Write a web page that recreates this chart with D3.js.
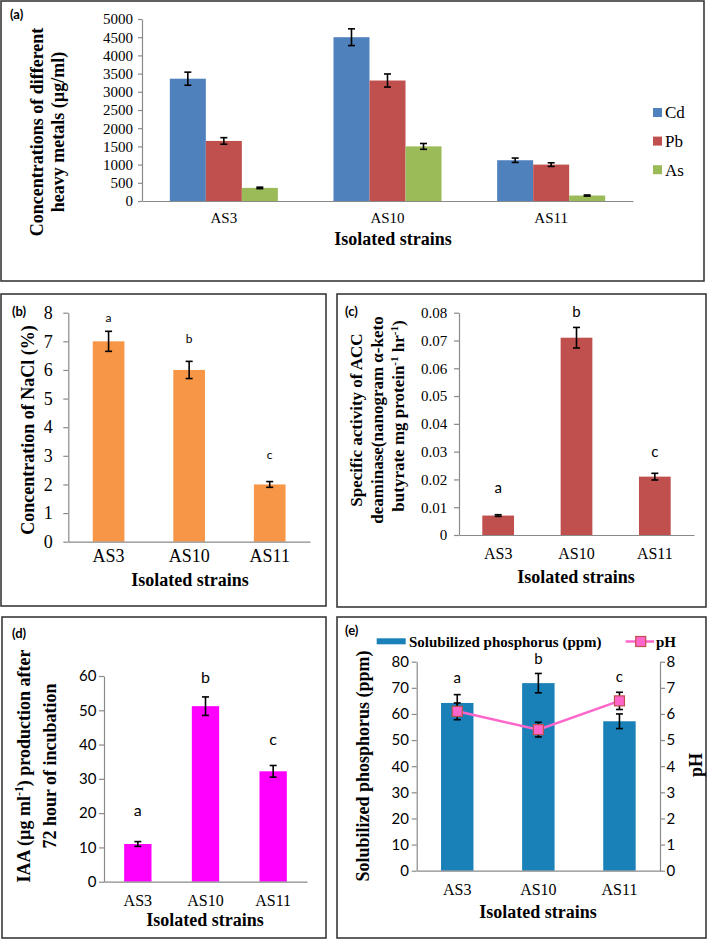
<!DOCTYPE html>
<html><head><meta charset="utf-8">
<script src="https://cdn.jsdelivr.net/npm/d3@7"></script>
<style>body{margin:0;background:#fff}svg{display:block}</style>
</head><body>
<script>
// ---------- data ----------
const strains = ["AS3", "AS10", "AS11"];
const metals = ["Cd", "Pb", "As"];
const cdValues = [3360, 4500, 1120];
const cdErrors = [180, 230, 60];
const pbValues = [1650, 3310, 1000];
const pbErrors = [90, 180, 50];
const asValues = [360, 1500, 150];
const asErrors = [20, 80, 15];
const metalTicks = [0, 500, 1000, 1500, 2000, 2500, 3000, 3500, 4000, 4500, 5000];

const naclValues = [7, 6, 2];
const naclErrors = [0.35, 0.3, 0.1];
const naclTicks = [0, 1, 2, 3, 4, 5, 6, 7, 8];

const accValues = [0.007, 0.071, 0.021];
const accErrors = [0.0003, 0.0037, 0.0012];
const accTicks = [0, 0.01, 0.02, 0.03, 0.04, 0.05, 0.06, 0.07, 0.08];

const iaaValues = [11, 51.2, 32.2];
const iaaErrors = [0.7, 2.7, 1.7];
const iaaTicks = [0, 10, 20, 30, 40, 50, 60];

const phosValues = [64.2, 71.8, 57.2];
const phosErrors = [3.2, 3.7, 2.8];
const phValues = [6.1, 5.4, 6.5];
const phErrors = [0.32, 0.28, 0.33];
const phosTicks = [0, 10, 20, 30, 40, 50, 60, 70, 80];
const phTicks = [0, 1, 2, 3, 4, 5, 6, 7, 8];

const sigLetters = ["a", "b", "c"];

// ---------- helpers ----------
const SERIF = "'Liberation Serif','Times New Roman',Times,serif";
const SANS = "Lato,'Liberation Sans',Arial,sans-serif";
const AXIS = "#8a8a8a";
const svg = d3.select("body").append("svg").attr("width", 708).attr("height", 939);

function border(x0, y0, x1, y1) {
  svg.append("rect").attr("x", x0).attr("y", y0).attr("width", x1 - x0).attr("height", y1 - y0)
    .attr("fill", "none").attr("stroke", "#3a3a3a").attr("stroke-width", 1.6);
}
function text(x, y, str, size, family, weight, anchor) {
  return svg.append("text").attr("x", x).attr("y", y).text(str)
    .style("font-size", size + "px").style("font-family", family).style("font-weight", weight || "normal")
    .attr("text-anchor", anchor || "start").attr("fill", "#000");
}
// rotated (-90) multi-part text; parts: [str, isSup]
function rotText(x, y, parts, size) {
  const t = svg.append("text").attr("transform", `translate(${x},${y}) rotate(-90)`)
    .attr("text-anchor", "middle").style("font-family", SERIF).style("font-weight", "bold")
    .style("font-size", size + "px").attr("fill", "#000");
  let sup = false;
  parts.forEach(p => {
    const s = t.append("tspan").text(p[0]);
    if (p[1] && !sup) { s.attr("dy", -size * 0.38).style("font-size", (size * 0.65) + "px"); sup = true; }
    else if (!p[1] && sup) { s.attr("dy", size * 0.38); sup = false; }
  });
}
function styleAxis(g, family, size) {
  g.attr("font-family", null).attr("font-size", null);
  g.select(".domain").attr("stroke", AXIS).attr("stroke-width", 1.2);
  g.selectAll(".tick line").attr("stroke", AXIS).attr("stroke-width", 1.2);
  g.selectAll(".tick text").attr("fill", "#000").style("font-family", family).style("font-size", size + "px");
}
function leftAxis(y, x, ticks, fmt, ts, pad, family, size) {
  const g = svg.append("g").attr("transform", `translate(${x},0)`)
    .call(d3.axisLeft(y).tickValues(ticks).tickFormat(fmt).tickSize(ts).tickPadding(pad).tickSizeOuter(0));
  styleAxis(g, family, size);
}
function rightAxis(y, x, ticks, fmt, ts, pad, family, size) {
  const g = svg.append("g").attr("transform", `translate(${x},0)`)
    .call(d3.axisRight(y).tickValues(ticks).tickFormat(fmt).tickSize(ts).tickPadding(pad).tickSizeOuter(0));
  styleAxis(g, family, size);
}
function bottomAxis(x, yPos, pad, size) {
  const g = svg.append("g").attr("transform", `translate(0,${yPos})`)
    .call(d3.axisBottom(x).tickSize(0).tickPadding(pad).tickSizeOuter(0));
  styleAxis(g, SERIF, size);
}
function errBars(xs, vals, errs, y, cap) {
  const g = svg.append("g").attr("stroke", "#000").attr("stroke-width", 1.6);
  vals.forEach((v, i) => {
    const cx = xs[i], t = y(v + errs[i]), b = y(v - errs[i]);
    g.append("line").attr("x1", cx).attr("x2", cx).attr("y1", t).attr("y2", b);
    g.append("line").attr("x1", cx - cap).attr("x2", cx + cap).attr("y1", t).attr("y2", t);
    g.append("line").attr("x1", cx - cap).attr("x2", cx + cap).attr("y1", b).attr("y2", b);
  });
}
function simpleBars(x, y, vals, color) {
  svg.append("g").selectAll("rect").data(vals).join("rect")
    .attr("x", (d, i) => x(strains[i])).attr("width", x.bandwidth())
    .attr("y", d => y(d)).attr("height", d => y(0) - y(d)).attr("fill", color);
}
function band(r0, r1, p) {
  return d3.scaleBand().domain(strains).range([r0, r1]).paddingInner(p).paddingOuter(p / 2);
}
const centers = x => strains.map(s => x(s) + x.bandwidth() / 2);

// ---------- panel (a) ----------
border(1, 1, 704, 281);
text(10, 19, "(a)", 13, SANS, "bold");
{
  const y = d3.scaleLinear().domain([0, 5000]).range([201, 19]);
  const x0 = d3.scaleBand().domain(strains).range([142, 633]).paddingInner(0.34).paddingOuter(0.17);
  const x1 = d3.scaleBand().domain(metals).range([0, x0.bandwidth()]);
  const colors = { Cd: "#4F81BD", Pb: "#C0504D", As: "#9BBB59" };
  const series = { Cd: [cdValues, cdErrors], Pb: [pbValues, pbErrors], As: [asValues, asErrors] };
  metals.forEach(m => {
    svg.append("g").selectAll("rect").data(series[m][0]).join("rect")
      .attr("x", (d, i) => x0(strains[i]) + x1(m)).attr("width", x1.bandwidth())
      .attr("y", d => y(d)).attr("height", d => y(0) - y(d)).attr("fill", colors[m]);
  });
  leftAxis(y, 142, metalTicks, d3.format("d"), 4, 5, SERIF, 15);
  bottomAxis(x0, 201, 11.8, 15);
  metals.forEach(m => {
    errBars(strains.map(s => x0(s) + x1(m) + x1.bandwidth() / 2), series[m][0], series[m][1], y, 3.5);
  });
  text(393, 245, "Isolated strains", 18, SERIF, "bold", "middle");
  rotText(42.5, 132, [["Concentrations of different"]], 18);
  rotText(64, 132, [["heavy metals (µg/ml)"]], 18);
  metals.forEach((m, i) => {
    const cy = 112.5 + i * 28.6;
    svg.append("rect").attr("x", 653).attr("y", cy - 4.5).attr("width", 9).attr("height", 9).attr("fill", colors[m]);
    text(665, cy + 5.8, m, 17, SERIF);
  });
}

// ---------- panel (b) ----------
border(1, 294, 326, 606);
text(12, 316, "(b)", 13, SANS, "bold");
{
  const y = d3.scaleLinear().domain([0, 8]).range([541.7, 312.7]);
  const x = band(68.3, 310, 0.607);
  simpleBars(x, y, naclValues, "#F79646");
  leftAxis(y, 68.3, naclTicks, d3.format("d"), 5, 10.6, SERIF, 18);
  bottomAxis(x, 541.7, 8, 18);
  errBars(centers(x), naclValues, naclErrors, y, 3.5);
  const off = [13, 22, 27];
  centers(x).forEach((cx, i) => text(cx, y(naclValues[i] + naclErrors[i]) - off[i] + 4, sigLetters[i], 12, SANS, "normal", "middle"));
  text(190, 586, "Isolated strains", 18, SERIF, "bold", "middle");
  rotText(34, 430, [["Concentration of NaCl (%)"]], 18);
}

// ---------- panel (c) ----------
border(337, 294, 706, 607);
text(345, 316, "(c)", 13, SANS, "bold");
{
  const y = d3.scaleLinear().domain([0, 0.08]).range([535, 312.7]);
  const x = band(459, 694, 0.595);
  simpleBars(x, y, accValues, "#C0504D");
  leftAxis(y, 459, accTicks, d => d === 0 ? "0" : d3.format(".2f")(d), 5, 6.7, SERIF, 15);
  bottomAxis(x, 535, 12.6, 16);
  errBars(centers(x), accValues, accErrors, y, 3.5);
  const off = [26.7, 15.6, 21.6];
  centers(x).forEach((cx, i) => text(cx, y(accValues[i] + accErrors[i]) - off[i] + 5, sigLetters[i], 15, SANS, "normal", "middle"));
  text(576, 583, "Isolated strains", 18, SERIF, "bold", "middle");
  rotText(362, 420, [["Specific activity of ACC"]], 17);
  rotText(383, 420, [["deaminase(nanogram α-keto"]], 17);
  rotText(404, 416, [["butyrate mg protein"], ["-1", true], [" hr"], ["-1", true], [")"]], 17);
}

// ---------- panel (d) ----------
border(2, 617, 326, 938);
text(12, 638, "(d)", 13, SANS, "bold");
{
  const y = d3.scaleLinear().domain([0, 60]).range([881.7, 676]);
  const x = band(104, 307, 0.596);
  simpleBars(x, y, iaaValues, "#FF00FF");
  leftAxis(y, 104, iaaTicks, d3.format("d"), 5, 2.5, SANS, 15);
  bottomAxis(x, 881.7, 12.9, 16);
  errBars(centers(x), iaaValues, iaaErrors, y, 3.5);
  const off = [30.6, 19.5, 26];
  centers(x).forEach((cx, i) => text(cx, y(iaaValues[i] + iaaErrors[i]) - off[i] + 5.5, sigLetters[i], 16, SANS, "normal", "middle"));
  text(205, 926, "Isolated strains", 18, SERIF, "bold", "middle");
  rotText(30, 766, [["IAA (µg ml"], ["-1", true], [") production after"]], 18);
  rotText(56, 766, [["72 hour of incubation"]], 18);
}

// ---------- panel (e) ----------
border(337, 617, 706, 938);
text(345, 635, "(e)", 13, SANS, "bold");
{
  const y = d3.scaleLinear().domain([0, 80]).range([870.7, 661.7]);
  const yR = d3.scaleLinear().domain([0, 8]).range([870.7, 661.7]);
  const x = band(416.7, 660, 0.6);
  simpleBars(x, y, phosValues, "#1A80B8");
  leftAxis(y, 416.7, phosTicks, d3.format("d"), 5, 2.7, SANS, 15);
  rightAxis(yR, 660, phTicks, d3.format("d"), 5, 1.5, SANS, 15);
  bottomAxis(x, 870.7, 12.9, 16);
  errBars(centers(x), phosValues, phosErrors, y, 3.5);
  const cx = centers(x);
  svg.append("path").datum(phValues)
    .attr("d", d3.line().x((d, i) => cx[i]).y(d => yR(d)))
    .attr("fill", "none").attr("stroke", "#FF66CC").attr("stroke-width", 2.5);
  errBars(cx, phValues, phErrors, yR, 3.5);
  svg.append("g").selectAll("rect").data(phValues).join("rect")
    .attr("x", (d, i) => cx[i] - 5).attr("y", d => yR(d) - 5).attr("width", 10).attr("height", 10)
    .attr("fill", "#FF66CC").attr("stroke", "#C0504D").attr("stroke-width", 1.2);
  const tops = [y(phosValues[0] + phosErrors[0]), y(phosValues[1] + phosErrors[1]), yR(phValues[2] + phErrors[2])];
  const off = [16.5, 14.3, 15.7];
  cx.forEach((c, i) => text(c, tops[i] - off[i] + 5, sigLetters[i], 15, SANS, "normal", "middle"));
  text(538, 918, "Isolated strains", 18, SERIF, "bold", "middle");
  rotText(369, 766, [["Solubilized phosphorus (ppm)"]], 18);
  rotText(702, 765, [["pH"]], 18);
  // legend
  svg.append("rect").attr("x", 376.7).attr("y", 638.3).attr("width", 29).attr("height", 6).attr("fill", "#1A80B8");
  text(409, 647, "Solubilized phosphorus (ppm)", 15, SERIF, "bold");
  svg.append("line").attr("x1", 625.7).attr("x2", 654).attr("y1", 641.5).attr("y2", 641.5)
    .attr("stroke", "#FF66CC").attr("stroke-width", 2.5);
  svg.append("rect").attr("x", 635.7).attr("y", 636.5).attr("width", 10).attr("height", 10)
    .attr("fill", "#FF66CC").attr("stroke", "#C0504D").attr("stroke-width", 1.2);
  text(656, 647, "pH", 15, SERIF, "bold");
}
</script>
</body></html>
